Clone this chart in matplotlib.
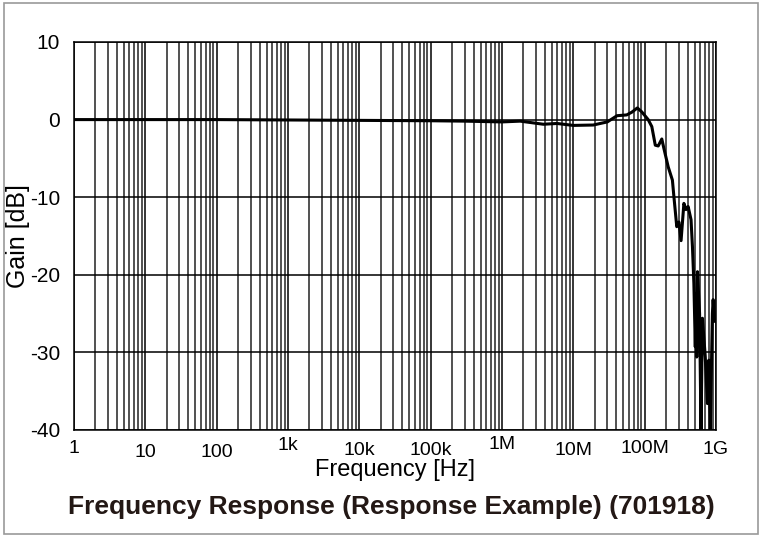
import numpy as np
import matplotlib.pyplot as plt
from matplotlib.patches import Rectangle
from matplotlib.ticker import LogLocator, NullFormatter

plt.rcParams['font.family'] = ['Liberation Sans', 'DejaVu Sans']

# frequency response
freq = [1, 10, 100, 1e3, 1e4, 1e5, 3e5, 1e6, 1.8e6, 3.8e6, 5.9e6, 1e7,
        1.9e7, 3e7, 4.1e7, 5.6e7, 6.6e7, 7.9e7, 9.1e7, 1.12e8, 1.26e8,
        1.41e8, 1.55e8, 1.74e8, 1.86e8, 2.14e8, 2.45e8, 2.57e8, 2.82e8,
        3.02e8, 3.24e8, 3.55e8, 3.8e8, 4.07e8, 4.47e8, 4.68e8, 4.9e8,
        5.13e8, 5.25e8, 5.37e8, 5.5e8, 5.89e8, 6.17e8, 6.46e8, 7.08e8,
        7.59e8, 7.94e8, 8.32e8, 8.91e8, 9.12e8, 9.55e8, 1e9]
gain = [0, 0, 0, -0.05, -0.1, -0.15, -0.2, -0.3, -0.2, -0.6, -0.5, -0.75,
        -0.7, -0.3, 0.5, 0.6, 0.95, 1.5, 1.0, 0.0, -0.9,
        -3.3, -3.4, -2.5, -3.7, -6.1, -7.8, -9.9, -13.8,
        -13.2, -15.6, -10.8, -11.6, -11.2, -12.9, -16.4, -21.1,
        -29.3, -22.4, -30.6, -19.6, -25, -40, -25.6, -30.6,
        -36.6, -31, -40, -25, -23.2, -26, -26]

dec_ticks = [1, 10, 100, 1e3, 1e4, 1e5, 1e6, 1e7, 1e8, 1e9]
dec_labels = ['1', '10', '100', '1k', '10k', '100k', '1M', '10M', '100M', '1G']
label_pads = [7, 10, 10, 5, 9, 9, 4, 9, 7, 8]
y_ticks = [10, 0, -10, -20, -30, -40]

fig = plt.figure(figsize=(7.62, 5.37), dpi=100)
ax = fig.add_axes([0.0971, 0.1993, 0.8425, 0.7225])

ax.plot(freq, gain, color='black', lw=2.2, zorder=3)

ax.set_xscale('log')
ax.set_xlim(1, 1e9)
ax.set_ylim(-40, 10)
ax.set_xticks(dec_ticks)
ax.set_xticklabels(dec_labels)
ax.xaxis.set_minor_locator(LogLocator(base=10, subs=np.arange(2, 10), numticks=100))
ax.xaxis.set_minor_formatter(NullFormatter())
ax.set_yticks(y_ticks)
ax.set_yticklabels([str(v) for v in y_ticks])

ax.grid(which='major', axis='both', color='black', lw=1.1)
ax.grid(which='minor', axis='x', color='#222222', lw=1.1)
ax.tick_params(which='both', length=0, labelsize=14)
ax.tick_params(axis='y', pad=10, labelsize=15)
for t, p in zip(ax.xaxis.get_major_ticks(), label_pads):
    t.set_pad(p)
for s in ax.spines.values():
    s.set_linewidth(1.1)

ax.set_xlabel('Frequency [Hz]', fontsize=17)
ax.xaxis.set_label_coords(0.5, -0.075)
ax.set_ylabel('Gain [dB]', fontsize=18, labelpad=0)

fig.text(0.513, 0.056, 'Frequency Response (Response Example) (701918)',
         ha='center', va='center', fontsize=19, fontweight='bold', color='#231815')

fig.patches.append(Rectangle((0.005, 0.005), 0.99, 0.99, transform=fig.transFigure,
                             fill=False, edgecolor='#999999', lw=1.2))

fig.savefig('out.png', dpi=100)
